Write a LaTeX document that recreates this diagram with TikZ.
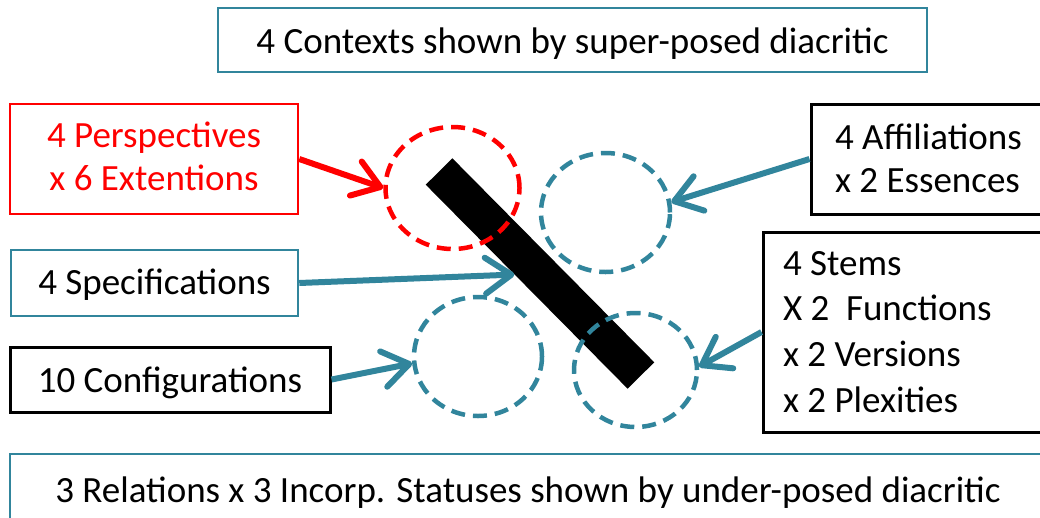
\documentclass[tikz,border=0pt]{standalone}
\usepackage{fontspec}
\setmainfont{Carlito}
\usetikzlibrary{arrows.meta,shapes.geometric}
\definecolor{teal}{RGB}{49,133,156}
\definecolor{pred}{RGB}{255,0,0}
\tikzset{
  box/.style={draw, rectangle, inner sep=0pt, font=\fontsize{37pt}{44pt}\selectfont},
  tealbox/.style={box, draw=teal, line width=2.5pt},
  blackbox/.style={box, draw=black, line width=3pt},
  ring/.style={ellipse, draw=teal, line width=4.5pt, dash pattern=on 14pt off 8pt, inner sep=0pt},
  arr/.style={line width=6pt, draw=teal, -{Straight Barb[length=26pt,width=36pt,round]}},
}
\begin{document}
\begin{tikzpicture}[x=1pt,y=-1pt]
\useasboundingbox (0,0) rectangle (1040,517);
\clip (0,0) rectangle (1040,517);
\fill[white] (0,0) rectangle (1040,517);

% boxes
\node[tealbox, minimum width=709pt, minimum height=64pt, text height=30pt, text depth=4pt] (ctx) at (572.5,40) {4 Contexts shown by super-posed diacritic};
\node[box, draw=pred, text=pred, line width=2.5pt, minimum width=288pt, minimum height=110pt, align=center, text height=70pt, text depth=8pt, font=\fontsize{37pt}{43pt}\selectfont] (pers) at (154,159) {4 Perspectives\\x 6 Extentions};
\node[blackbox, minimum width=260pt, minimum height=110pt, inner xsep=24pt, text width=212pt, align=flush left, text height=26pt, text depth=46pt, font=\fontsize{37pt}{43pt}\selectfont] (aff) at (941,159) {4 Affiliations\\x 2 Essences};
\node[tealbox, minimum width=287pt, minimum height=66pt, text height=28pt, text depth=6pt] (spec) at (154.5,283) {4 Specifications};
\node[blackbox, minimum width=287pt, minimum height=200pt, inner xsep=20pt, text width=247pt, align=flush left, text height=26pt, text depth=140pt, font=\fontsize{37pt}{45.67pt}\selectfont] (stems) at (906.5,332) {4 Stems\\X 2\ \ Functions\\x 2 Versions\\x 2 Plexities};
\node[blackbox, minimum width=320pt, minimum height=65pt, text height=30pt, text depth=5pt] (conf) at (170,379.5) {10 Configurations};
\node[tealbox, minimum width=1036pt, minimum height=70pt, text height=30pt, text depth=4pt] (rel) at (528,489) {3 Relations x 3 Incorp. Statuses shown by under-posed diacritic};

% bar
\node[rectangle, fill=black, inner sep=0pt, minimum width=287pt, minimum height=37.5pt, rotate=-45.3] (bar) at (540,273.5) {};

% circles
\node[ring, draw=pred, minimum width=134pt, minimum height=122pt] (rc) at (452.5,188) {};
\node[ring, minimum width=129pt, minimum height=119pt] (tr) at (605.5,212.5) {};
\node[ring, minimum width=128pt, minimum height=119pt] (bl) at (478,356.5) {};
\node[ring, minimum width=123pt, minimum height=114pt] (br) at (635.5,370) {};

% arrows
\draw[arr, draw=pred] (pers.east) -- (rc.west);
\draw[arr] (aff.west) -- (tr.9);
\draw[arr] (spec.east) -- (bar);
\draw[arr] (stems.west) -- (br.3);
\draw[arr] (conf.east) -- (bl.186);
\end{tikzpicture}
\end{document}
